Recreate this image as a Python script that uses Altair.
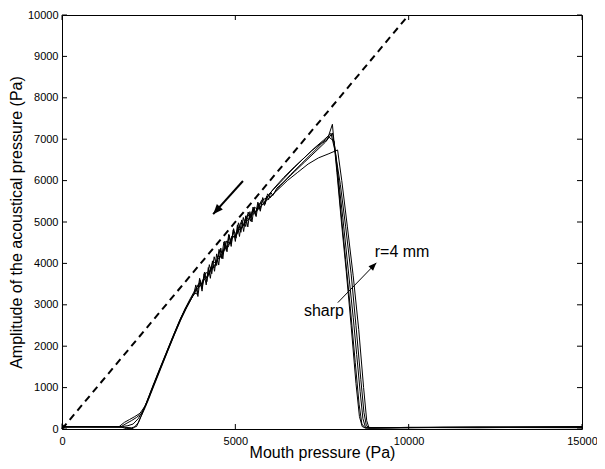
import altair as alt
import pandas as pd

# ---------------- data ----------------
t1_x = [0, 60, 1000, 1700, 1850, 2000, 2150, 2300, 2400, 2500, 2600, 2800, 3000, 3200, 3400, 3550, 3700, 3800,
        3860, 3920, 3980, 4040, 4100, 4160, 4220, 4280, 4340, 4400, 4460, 4520, 4580, 4640, 4700, 4760, 4820,
        4880, 4940, 5000, 5060, 5120, 5180, 5240, 5300, 5360, 5420, 5480, 5540, 5600, 5660, 5720, 5780, 5840,
        5900, 5960, 6020, 6080, 6200, 6400, 6700, 7000, 7300, 7600, 7800,
        7880, 7980, 8100, 8200, 8300, 8400, 8500, 8600, 8680, 8750, 8850, 10000, 12000, 15000]
t1_y = [130, 60, 50, 55, 130, 200, 280, 380, 560, 780, 1000, 1420, 1830, 2240, 2640, 2900, 3120, 3250,
        3480, 3200, 3600, 3330, 3750, 3480, 3900, 3640, 4060, 3810, 4230, 3960, 4370, 4110, 4540, 4280, 4690,
        4410, 4810, 4530, 4930, 4650, 5050, 4770, 5150, 4880, 5250, 5000, 5350, 5130, 5440, 5260, 5520, 5400,
        5620, 5540, 5720, 5640, 5820, 5970, 6210, 6450, 6690, 6930, 7150,
        6750, 6000, 5100, 4300, 3500, 2700, 1800, 900, 250, 50, 20, 40, 30, 50]

t2_x = [0, 1650, 1800, 1950, 2100, 2250, 2400, 2500, 2650, 2850, 3050, 3250, 3450, 3600, 3720, 3830,
        3900, 3970, 4040, 4110, 4180, 4250, 4320, 4390, 4460, 4530, 4600, 4670, 4740, 4810, 4880, 4950, 5020,
        5090, 5160, 5230, 5300, 5370, 5440, 5510, 5580, 5650, 5720, 5790, 5860, 5930, 6000, 6300, 6600, 6900,
        7200, 7500, 7650, 7800,
        7850, 7930, 8060, 8200, 8340, 8480, 8580, 8660, 8760, 11000, 15000]
t2_y = [60, 60, 160, 230, 300, 380, 560, 760, 1080, 1500, 1920, 2330, 2720, 2960, 3140, 3280,
        3260, 3640, 3390, 3790, 3560, 3970, 3750, 4160, 3950, 4340, 4120, 4520, 4310, 4700, 4470, 4840, 4610,
        4980, 4750, 5110, 4890, 5240, 5020, 5360, 5160, 5480, 5300, 5590, 5430, 5680, 5580, 5880, 6150, 6400,
        6650, 6900, 6980, 7360,
        6900, 6200, 5000, 3800, 2500, 1100, 300, 60, 20, 40, 30]

t3_x = [0, 1700, 1850, 2050, 2200, 2350, 2450, 2600, 2800, 3000, 3200, 3400, 3560, 3750,
        3900, 4000, 4100, 4200, 4300, 4400, 4500, 4600, 4700, 4800, 4900, 5000, 5100, 5200, 5300, 5400, 5500,
        5600, 5700, 5800, 6000, 6200, 6500, 6800, 7100, 7400, 7700, 7950,
        8070, 8230, 8400, 8560, 8700, 8790, 8850, 9000, 15000]
t3_y = [50, 50, 10, 10, 150, 450, 640, 960, 1380, 1790, 2200, 2600, 2880, 3180,
        3380, 3470, 3600, 3700, 3860, 3950, 4100, 4200, 4350, 4450, 4600, 4680, 4800, 4880, 5000, 5080, 5180,
        5250, 5350, 5430, 5600, 5760, 6000, 6200, 6400, 6550, 6650, 6740,
        6000, 4900, 3700, 2400, 1000, 200, 40, 30, 60]

t4_x = [0, 1750, 1900, 2050, 2200, 2320, 2450, 2600, 2800, 3000, 3200, 3400, 3560, 3700, 3800,
        3950, 4050, 4150, 4250, 4350, 4450, 4550, 4650, 4750, 4850, 4950, 5050, 5150, 5250, 5350, 5450, 5550,
        5650, 5750, 5900, 6100, 6400, 6700, 7000, 7300, 7550, 7760,
        7880, 8030, 8180, 8340, 8480, 8620, 8710, 8780, 8870, 15000]
t4_y = [40, 60, 80, 120, 250, 420, 660, 980, 1400, 1810, 2220, 2620, 2920, 3150, 3300,
        3520, 3500, 3780, 3740, 4050, 4000, 4300, 4240, 4540, 4480, 4770, 4700, 4980, 4920, 5180, 5110, 5360,
        5300, 5520, 5580, 5800, 6080, 6330, 6560, 6800, 6980, 7140,
        6700, 5900, 4900, 3750, 2500, 1200, 400, 80, 30, 40]

t5_x = [0, 1800, 2000, 2150, 2280, 2400, 2500, 2650, 2850, 3050, 3250, 3450, 3600, 3780,
        3900, 4000, 4100, 4200, 4300, 4400, 4500, 4600, 4700, 4800, 4900, 5000, 5100, 5200, 5300, 5400, 5500,
        5600, 5700, 5800, 6000, 6300, 6600, 6900, 7200, 7500, 7700, 7850,
        7930, 8040, 8180, 8320, 8460, 8570, 8650, 8740, 12000, 15000]
t5_y = [60, 40, 30, 60, 300, 520, 720, 1040, 1460, 1880, 2290, 2680, 2940, 3220,
        3440, 3460, 3680, 3660, 3920, 3900, 4180, 4150, 4430, 4400, 4660, 4640, 4890, 4860, 5100, 5060, 5290,
        5250, 5450, 5420, 5700, 5960, 6230, 6480, 6720, 6920, 7050, 6950,
        6300, 5300, 4100, 2900, 1600, 600, 120, 30, 50, 45]

traces = [(t1_x, t1_y), (t2_x, t2_y), (t3_x, t3_y), (t4_x, t4_y), (t5_x, t5_y)]

ref_x = [0, 10000]
ref_y = [0, 10000]

arrow_x = [5220, 7957]
arrow_y = [5990, 3053]
arrow_x2 = [4360, 9068]
arrow_y2 = [5190, 4014]
arrow_angle = [222, 44]
arrow_width = [2, 1]
arrow_head = [400, 256]

label_text = ["sharp", "r=4 mm"]
label_x = [7557, 9810]
label_y = [2728, 4159]

x_ticks = [0, 5000, 10000, 15000]
y_ticks = [0, 1000, 2000, 3000, 4000, 5000, 6000, 7000, 8000, 9000, 10000]

# ---------------- tables ----------------
rows = []
for k, (xs, ys) in enumerate(traces):
    for i, (a, b) in enumerate(zip(xs, ys)):
        rows.append({"trace": k, "i": i, "x": a, "y": b})
df_tr = pd.DataFrame(rows)
df_ref = pd.DataFrame({"x": ref_x, "y": ref_y})
df_arr = pd.DataFrame({"x": arrow_x, "y": arrow_y, "x2": arrow_x2, "y2": arrow_y2,
                       "ang": arrow_angle, "w": arrow_width, "s": arrow_head})
df_lab = pd.DataFrame({"t": label_text, "x": label_x, "y": label_y})
df_xt = pd.DataFrame({"x": x_ticks})
df_yt = pd.DataFrame({"y": y_ticks})

W, H = 520, 414
FONT = "Liberation Sans"

xscale = alt.Scale(domain=[0, 15000], nice=False, zero=False)
yscale = alt.Scale(domain=[0, 10000], nice=False, zero=False)
xaxis = alt.Axis(values=x_ticks, format="d", title="Mouth pressure (Pa)", labelFlush=False,
                 labelPadding=6, titleY=28.5, titleBaseline="alphabetic")
yaxis = alt.Axis(values=y_ticks, format="d", title="Amplitude of the acoustical pressure (Pa)",
                 labelFlush=False, labelPadding=4, titleX=-41, titleY=H / 2, titleAngle=270,
                 titleBaseline="alphabetic", titleAlign="center")


def X(f="x"):
    return alt.X(f, type="quantitative", scale=xscale, axis=xaxis)


def Y(f="y"):
    return alt.Y(f, type="quantitative", scale=yscale, axis=yaxis)


lines = alt.Chart(df_tr).mark_line(color="black", strokeWidth=1).encode(
    x=X(), y=Y(), detail="trace:N", order="i:Q")

ref = alt.Chart(df_ref).mark_line(color="black", strokeWidth=2, strokeDash=[7, 5]).encode(
    x=X(), y=Y())

shafts = alt.Chart(df_arr).mark_rule(color="black").encode(
    x=X(), y=Y(), x2="x2", y2="y2", strokeWidth=alt.StrokeWidth("w:Q", scale=None))

heads = alt.Chart(df_arr).mark_point(shape="M0,0L-0.4,1L0.4,1Z", filled=True, color="black",
                                     opacity=1, strokeWidth=0).encode(
    x=alt.X("x2", type="quantitative", scale=xscale, axis=xaxis),
    y=alt.Y("y2", type="quantitative", scale=yscale, axis=yaxis),
    angle=alt.Angle("ang:Q", scale=None), size=alt.Size("s:Q", scale=None))

labels = alt.Chart(df_lab).mark_text(font=FONT, fontSize=16, color="black", align="center",
                                     baseline="alphabetic").encode(x=X(), y=Y(), text="t:N")

tick_b = alt.Chart(df_xt).mark_rule(color="black").encode(x=X(), y=alt.value(H), y2=alt.value(H - 5))
tick_t = alt.Chart(df_xt).mark_rule(color="black").encode(x=X(), y=alt.value(0), y2=alt.value(5))
tick_l = alt.Chart(df_yt).mark_rule(color="black").encode(y=Y(), x=alt.value(0), x2=alt.value(5))
tick_r = alt.Chart(df_yt).mark_rule(color="black").encode(y=Y(), x=alt.value(W), x2=alt.value(W - 5))

chart = alt.layer(lines, ref, shafts, heads, labels, tick_b, tick_t, tick_l, tick_r).properties(
    width=W, height=H,
    autosize=alt.AutoSizeParams(type="none"),
    padding={"left": 54, "top": 7, "right": 15, "bottom": 32},
    background="white",
).configure_view(stroke="black", strokeWidth=1).configure_axis(
    grid=False, domain=False, ticks=False,
    labelFont=FONT, labelFontSize=11, labelColor="black",
    titleFont=FONT, titleFontSize=16, titleColor="black", titleFontWeight="normal",
)

chart.save("out.html", embed_options={"renderer": "svg", "actions": False})
